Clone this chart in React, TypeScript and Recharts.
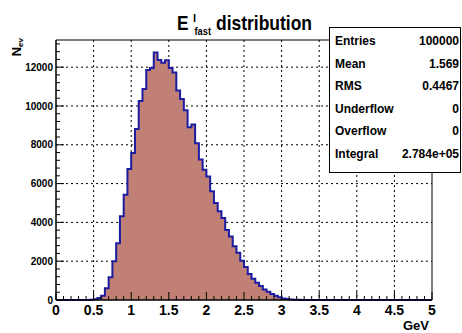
import { AreaChart, Area, XAxis, YAxis, CartesianGrid, ReferenceArea } from 'recharts';

// 100 bins of width 0.05 GeV over [0, 5]
const binWidth = 0.05;
const counts = [
  0, 0, 0, 0, 0, 0, 0, 0, 5, 15,
  45, 100, 220, 600, 1170, 2000, 2930, 4310, 5420, 6750,
  7580, 8810, 10260, 10880, 11850, 11960, 12760, 12370, 12230, 12350,
  11960, 11730, 10800, 10360, 9780, 8900, 9040, 8080, 7240, 6710,
  6360, 5600, 5000, 4570, 4230, 3610, 3270, 2770, 2430, 2020,
  1700, 1340, 1100, 885, 720, 540, 425, 310, 215, 140,
  80, 50, 30, 18, 10, 5, 3, 1, 0, 0,
  0, 0, 0, 0, 0, 0, 0, 0, 0, 0,
  0, 0, 0, 0, 0, 0, 0, 0, 0, 0,
  0, 0, 0, 0, 0, 0, 0, 0, 0, 0,
];

const xMajor = [0, 0.5, 1, 1.5, 2, 2.5, 3, 3.5, 4, 4.5, 5];
const xTicks = Array.from({ length: 51 }, (_, i) => i / 10);
const yMajor = [0, 2000, 4000, 6000, 8000, 10000, 12000];
const yTicks = Array.from({ length: 34 }, (_, i) => i * 400);
const yMax = 13400;

const statNames = ['Entries', 'Mean', 'RMS', 'Underflow', 'Overflow', 'Integral'];
const statValues = ['100000', '1.569', '0.4467', '0', '0', '2.784e+05'];

const data = counts.map((n, i) => ({ x: Math.round(i * binWidth * 100) / 100, n }));
data.push({ x: 5, n: counts[counts.length - 1] });

const FONT = "'Liberation Sans', Arial, Helvetica, sans-serif";

const isMajorX = (v: number) => Math.abs(v * 2 - Math.round(v * 2)) < 1e-9;

const XTick = (props: any) => {
  const { x, y, payload } = props;
  const v = payload.value;
  const major = isMajorX(v);
  return (
    <g>
      <line x1={x} x2={x} y1={y} y2={y - (major ? 8 : 4)} stroke="#000" />
      {major && (
        <text x={x} y={y + 15} textAnchor="middle" fontSize={14} fontWeight="bold" fontFamily={FONT} fill="#000">
          {String(v)}
        </text>
      )}
    </g>
  );
};

const YTick = (props: any) => {
  const { x, y, payload } = props;
  const v = payload.value;
  const major = v % 2000 === 0;
  return (
    <g>
      <line x1={x} x2={x + (major ? 8 : 4)} y1={y} y2={y} stroke="#000" />
      {major && (
        <text x={x - 3} y={y} dy="0.36em" textAnchor="end" fontSize={10} fontWeight="bold" fontFamily={FONT} fill="#000">
          {String(v)}
        </text>
      )}
    </g>
  );
};

export default function App() {
  return (
    <div style={{ position: 'absolute', left: 0, top: 0, width: 462, height: 333, background: '#fff' }}>
      <AreaChart width={462} height={333} data={data} margin={{ top: 40, right: 30, bottom: 0, left: 0 }}>
        <CartesianGrid
          stroke="#000"
          strokeDasharray="2 3"
          horizontalValues={yMajor.slice(1)}
          verticalValues={xMajor.slice(1, -1)}
        />
        <Area
          type="stepAfter"
          dataKey="n"
          stroke="#1c1ca0"
          strokeWidth={2}
          fill="#c08075"
          fillOpacity={1}
          isAnimationActive={false}
          dot={false}
          activeDot={false}
        />
        <XAxis
          type="number"
          dataKey="x"
          domain={[0, 5]}
          ticks={xTicks}
          interval={0}
          tickSize={0}
          tickMargin={0}
          tickLine={false}
          tick={<XTick />}
          axisLine={{ stroke: '#000' }}
          height={33}
        />
        <YAxis
          type="number"
          domain={[0, yMax]}
          ticks={yTicks}
          interval={0}
          tickSize={0}
          tickMargin={0}
          tickLine={false}
          tick={<YTick />}
          axisLine={{ stroke: '#000' }}
          width={56}
        />
        <ReferenceArea x1={0} x2={5} y1={0} y2={yMax} fill="none" stroke="#000" strokeWidth={1} />
      </AreaChart>

      <svg width={462} height={333} style={{ position: 'absolute', left: 0, top: 0, pointerEvents: 'none' }}>
        <g fontFamily={FONT} fontWeight="bold" fill="#000">
          <text x={177} y={30} fontSize={21} textLength={11.5} lengthAdjust="spacingAndGlyphs">E</text>
          <text x={193} y={22} fontSize={11}>l</text>
          <text x={194.5} y={35} fontSize={11} textLength={16.5} lengthAdjust="spacingAndGlyphs">fast</text>
          <text x={216} y={30} fontSize={21} textLength={96} lengthAdjust="spacingAndGlyphs">distribution</text>
        </g>
        <text transform="translate(21,38) rotate(-90)" textAnchor="end" fontFamily={FONT} fontWeight="bold" fontSize={13} fill="#000">
          N<tspan dy={2} fontSize={8}>ev</tspan>
        </text>
        <text x={429} y={330} textAnchor="end" fontFamily={FONT} fontWeight="bold" fontSize={13} fill="#000">
          GeV
        </text>

        <rect x={329.5} y={27.5} width={131} height={145} fill="#fff" stroke="#000" />
        <g fontFamily={FONT} fontWeight="bold" fontSize={12} fill="#000">
          {statNames.map((name, i) => (
            <g key={name}>
              <text x={335} y={45 + 22.5 * i}>{name}</text>
              <text x={459} y={45 + 22.5 * i} textAnchor="end">{statValues[i]}</text>
            </g>
          ))}
        </g>
      </svg>
    </div>
  );
}
